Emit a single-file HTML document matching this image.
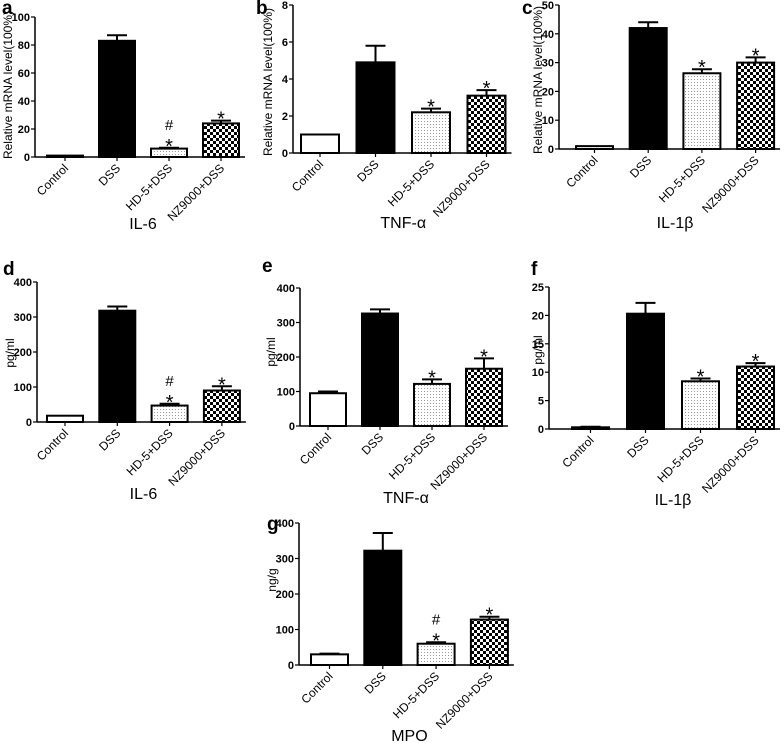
<!DOCTYPE html>
<html><head><meta charset="utf-8"><style>
html,body{margin:0;padding:0;background:#fff;}
svg{display:block;font-family:"Liberation Sans",Arial,sans-serif;}
</style></head><body>
<svg id="fig" width="784" height="743" viewBox="0 0 784 743">
<defs>
<pattern id="dots" width="3" height="3" patternUnits="userSpaceOnUse"><rect width="3" height="3" fill="#fff"/><rect x="1" y="1" width="1" height="1" fill="#999"/></pattern>
<pattern id="checks" width="6" height="6" patternUnits="userSpaceOnUse"><rect width="6" height="6" fill="#fff"/><rect width="3" height="3" fill="#000"/><rect x="3" y="3" width="3" height="3" fill="#000"/></pattern>
</defs>
</svg>
<script>
const categories = ["Control","DSS","HD-5+DSS","NZ9000+DSS"];
const valuesA = [1,83,6,24];      const errA = [0,4,0.6,2];
const valuesB = [1,4.9,2.2,3.1];  const errB = [0,0.9,0.2,0.3];
const valuesC = [1,42,26.3,30];   const errC = [0,2,1.4,1.8];
const valuesD = [18,318,47,90];   const errD = [0,12,5,12];
const valuesE = [95,326,122,166]; const errE = [5,12,13,30];
const valuesF = [0.3,20.3,8.4,11]; const errF = [0.1,1.9,0.5,0.6];
const valuesG = [30,322,60,128];  const errG = [2,50,4,8];
const ticksA=[0,20,40,60,80,100], ticksB=[0,2,4,6,8], ticksC=[0,10,20,30,40,50];
const ticksD=[0,100,200,300,400], ticksE=[0,100,200,300,400], ticksF=[0,5,10,15,20,25], ticksG=[0,100,200,300,400];
const starsA=["","","*#","*"], starsB=["","","*","*"], starsC=["","","*","*"];
const starsD=["","","*#","*"], starsE=["","","*","*"], starsF=["","","*","*"], starsG=["","","*#","*"];

const NS="http://www.w3.org/2000/svg";
const svg=document.getElementById('fig');
function mk(tag,attrs,parent,text){const e=document.createElementNS(NS,tag);for(const k in attrs)e.setAttribute(k,attrs[k]);if(text!==undefined)e.textContent=text;(parent||svg).appendChild(e);return e;}
const fills=["#fff","#000","url(#dots)","url(#checks)"];

function panel(p){
  const g=mk('g',{});
  
  
  const max=p.ticks[p.ticks.length-1];
  const ys=v=>p.y0-(v/max)*(p.y0-p.yTop);
  const xs=i=>p.bx0+i*p.sp;
  const w=p.bw;
  const L=mk('text',{x:p.lx,y:p.ly,'font-size':19,'font-weight':'bold'},g,p.id);
  
  
  const ya=mk('line',{x1:p.ax,y1:p.yTop,x2:p.ax,y2:p.y0,stroke:'#000','stroke-width':1.5},g);
  
  
  const xEnd=xs(3)+w+6;
  const xa=mk('line',{x1:p.ax,y1:p.y0,x2:xEnd,y2:p.y0,stroke:'#000','stroke-width':1.5},g);
  
  
  p.ticks.forEach(t=>{
    const y=ys(t);
    mk('line',{x1:p.ax-4,y1:y,x2:p.ax,y2:y,stroke:'#000','stroke-width':1.2},g);
    const tl=mk('text',{x:p.ax-5,y:y+4,'font-size':11,'font-weight':'bold','text-anchor':'end'},g,t);
    
    
  });
  const yl=mk('text',{x:p.ylx,y:p.yly,'font-size':12,'text-anchor':'middle',transform:`rotate(-90 ${p.ylx} ${p.yly})`},g,p.ylabel);
  
  
  p.values.forEach((v,i)=>{
    const x=xs(i), cx=x+w/2, top=ys(v), et=ys(v+p.errs[i]);
    if(p.errs[i]>0){
      mk('line',{x1:cx,y1:top,x2:cx,y2:et,stroke:'#000','stroke-width':2},g);
      mk('line',{x1:cx-10,y1:et,x2:cx+10,y2:et,stroke:'#000','stroke-width':2},g);
    }
    const r=mk('rect',{x:x,y:top,width:w,height:Math.max(p.y0-top,1),fill:fills[i],stroke:'#000','stroke-width':2},g);
    
    
    mk('line',{x1:cx,y1:p.y0,x2:cx,y2:p.y0+4,stroke:'#000','stroke-width':1.2},g);
    const ly=p.y0+12;
    const cl=mk('text',{x:cx+4,y:ly,'font-size':12,'text-anchor':'end',transform:`rotate(-45 ${cx+4} ${ly})`},g,categories[i]);
    
    
    const s=p.stars[i];
    if(s.includes('*')){
      const st=mk('text',{x:cx,y:et+5,'font-size':20,'text-anchor':'middle'},g,'*');
      
      
    }
    if(s.includes('#')){
      const h=mk('text',{x:cx,y:et-18,'font-size':15,'text-anchor':'middle'},g,'#');
      
      
    }
  });
  const ttl=mk('text',{x:(xs(0)+xs(3)+w)/2,y:p.ty,'font-size':16,'text-anchor':'middle'},g,p.title);
  
  
}
const mr="Relative mRNA level(100%)";
panel({id:'a',values:valuesA,errs:errA,ticks:ticksA,stars:starsA,ax:35,yTop:17,y0:157,bx0:47,sp:52,bw:36,lx:2,ly:14,ylx:12,yly:85,ylabel:mr,title:'IL-6',ty:229});
panel({id:'b',values:valuesB,errs:errB,ticks:ticksB,stars:starsB,ax:293,yTop:5,y0:153,bx0:301,sp:55.5,bw:38,lx:256,ly:14,ylx:272,yly:82,ylabel:mr,title:'TNF-α',ty:228});
panel({id:'c',values:valuesC,errs:errC,ticks:ticksC,stars:starsC,ax:559,yTop:5,y0:149,bx0:576,sp:53.7,bw:37,lx:522,ly:14,ylx:542,yly:80,ylabel:mr,title:'IL-1β',ty:228});
panel({id:'d',values:valuesD,errs:errD,ticks:ticksD,stars:starsD,ax:37,yTop:282,y0:422,bx0:47,sp:52.3,bw:36,lx:3,ly:275,ylx:14,yly:353,ylabel:'pg/ml',title:'IL-6',ty:499});
panel({id:'e',values:valuesE,errs:errE,ticks:ticksE,stars:starsE,ax:300,yTop:288,y0:426,bx0:310,sp:52,bw:36,lx:262,ly:272,ylx:275,yly:352,ylabel:'pg/ml',title:'TNF-α',ty:503});
panel({id:'f',values:valuesF,errs:errF,ticks:ticksF,stars:starsF,ax:549,yTop:287,y0:429,bx0:572,sp:55,bw:37,lx:531,ly:275,ylx:542,yly:350,ylabel:'pg/ml',title:'IL-1β',ty:505});
panel({id:'g',values:valuesG,errs:errG,ticks:ticksG,stars:starsG,ax:299,yTop:523,y0:665,bx0:311,sp:53.3,bw:37,lx:267,ly:530,ylx:276,yly:580,ylabel:'ng/g',title:'MPO',ty:741});
</script>
</body></html>
